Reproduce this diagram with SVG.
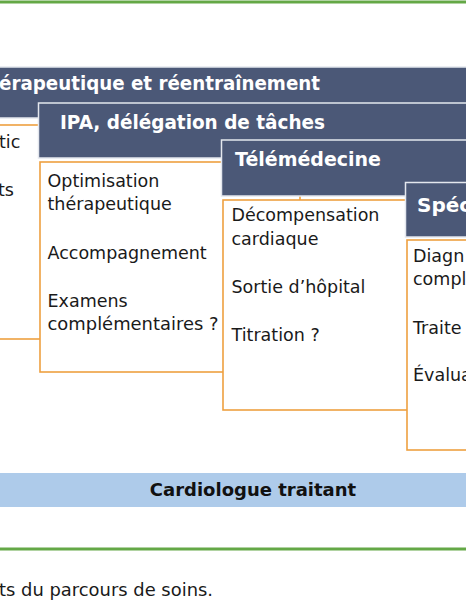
<svg xmlns="http://www.w3.org/2000/svg" width="466" height="600" viewBox="0 0 466 600">
  <style>
    .hdr { fill: #4b5877; stroke: #e4e7ee; stroke-width: 1.5; }
    .box { fill: #ffffff; stroke: #eea040; stroke-width: 1.6; }
    .ht { font-family: "DejaVu Sans", "Liberation Sans", sans-serif; font-weight: bold; font-size: 20px; fill: #ffffff; }
    .bt { font-family: "DejaVu Sans", "Liberation Sans", sans-serif; font-size: 17.5px; fill: #1a1a1a; }
    .green { stroke: #64a846; stroke-width: 3; }
  </style>
  <rect width="466" height="600" fill="#ffffff"/>
  <line class="green" x1="0" y1="2" x2="466" y2="2"/>

  <g id="etape1">
    <rect class="hdr" x="-5" y="67" width="480" height="51"/>
    <text class="ht" x="-1" y="90" textLength="321" lengthAdjust="spacingAndGlyphs">érapeutique et réentraînement</text>
    <rect class="box" x="-10" y="125" width="260" height="214"/>
    <text class="bt" x="-1" y="148">tic</text>
    <text class="bt" x="-2" y="196">ts</text>
  </g>

  <g id="etape2">
    <rect class="hdr" x="38.5" y="103" width="440" height="55"/>
    <text class="ht" x="60" y="129" textLength="265" lengthAdjust="spacingAndGlyphs">IPA, délégation de tâches</text>
    <rect class="box" x="40" y="162" width="260" height="210"/>
    <text class="bt" x="47.5" y="187">Optimisation</text>
    <text class="bt" x="47.5" y="210">thérapeutique</text>
    <text class="bt" x="47.5" y="259">Accompagnement</text>
    <text class="bt" x="47.5" y="307">Examens</text>
    <text class="bt" x="47.5" y="330" textLength="171" lengthAdjust="spacingAndGlyphs">complémentaires ?</text>
  </g>

  <g id="etape3">
    <rect class="hdr" x="221.5" y="140" width="260" height="56"/>
    <text class="ht" x="235" y="166" textLength="146" lengthAdjust="spacingAndGlyphs">Télémédecine</text>
    <rect class="box" x="223" y="200" width="260" height="210"/>
    <text class="bt" x="231.5" y="221">Décompensation</text>
    <text class="bt" x="231.5" y="245">cardiaque</text>
    <text class="bt" x="231.5" y="293">Sortie d’hôpital</text>
    <text class="bt" x="231.5" y="341">Titration ?</text>
  </g>

  <g id="etape4">
    <rect class="hdr" x="405.5" y="182.5" width="80" height="54.5"/>
    <text class="ht" x="417" y="212">Spéc</text>
    <rect class="box" x="407" y="240" width="80" height="210"/>
    <text class="bt" x="413" y="262">Diagn</text>
    <text class="bt" x="413" y="285">compl</text>
    <text class="bt" x="413" y="334">Traite</text>
    <text class="bt" x="413" y="381">Évalua</text>
  </g>

  <g id="cardiologue">
    <rect x="-2" y="473" width="470" height="34" fill="#aecbea"/>
    <text x="253" y="496" text-anchor="middle" font-family="DejaVu Sans, Liberation Sans, sans-serif" font-weight="bold" font-size="18" fill="#111111">Cardiologue traitant</text>
  </g>

  <g id="connectors"></g>

  <line class="green" x1="0" y1="549" x2="466" y2="549"/>
  <text class="bt" x="-1" y="596" textLength="214" lengthAdjust="spacingAndGlyphs">ts du parcours de soins.</text>
</svg>
